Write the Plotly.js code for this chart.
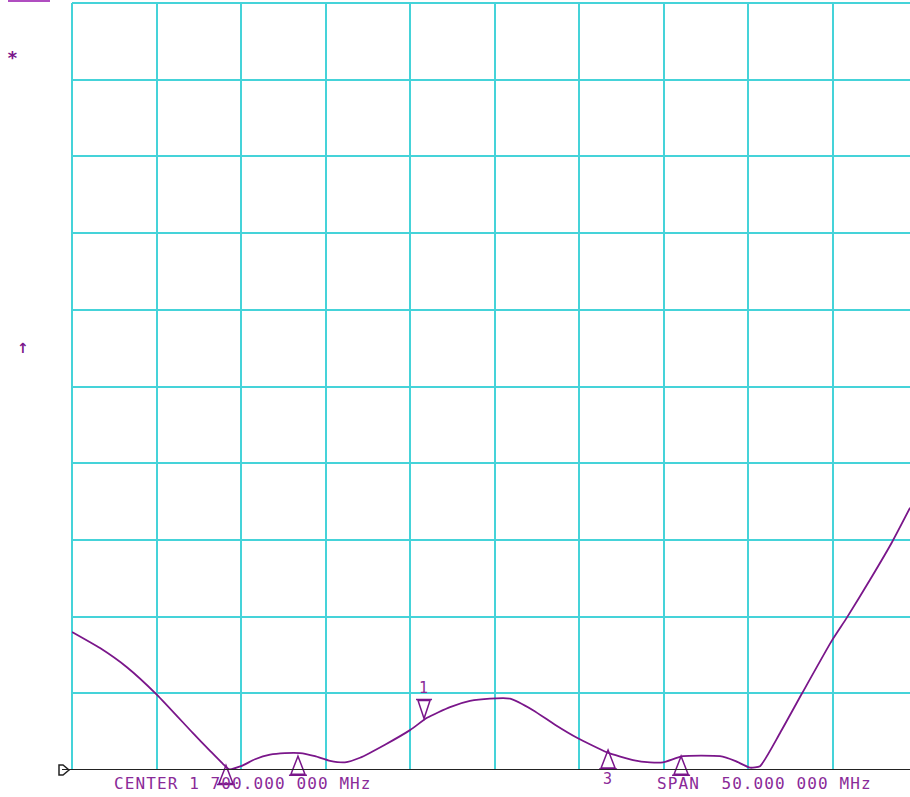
<!DOCTYPE html>
<html>
<head>
<meta charset="utf-8">
<script src="https://cdn.plot.ly/plotly-3.0.1.min.js"></script>
<style>
  html, body { margin: 0; padding: 0; background: #ffffff; }
  #chart { width: 910px; height: 797px; }
  .annotation-text { letter-spacing: 1.1px; }
</style>
</head>
<body>
<div id="chart"></div>
<script>
// ---- data (frequency in MHz, trace in screen divisions) ----
const centerMHz = 1700;
const spanMHz = 50;
const freqMHz = [1675.00, 1676.66, 1678.25, 1680.03, 1682.16, 1683.17, 1683.93, 1684.29, 1685.00, 1685.83,
                 1686.72, 1687.60, 1688.49, 1689.38, 1690.27, 1691.15, 1692.04, 1693.52, 1695.00, 1696.01,
                 1697.37, 1698.55, 1699.73, 1700.92, 1702.28, 1703.58, 1704.88, 1706.66, 1708.20, 1709.20,
                 1709.97, 1711.15, 1713.34, 1714.23, 1715.12, 1715.71, 1716.89, 1718.20, 1719.97, 1720.86,
                 1722.22, 1723.52, 1724.59];
const traceDiv = [1.80, 1.59, 1.34, 0.98, 0.48, 0.25, 0.08, 0.01, 0.05, 0.14,
                  0.20, 0.22, 0.22, 0.18, 0.12, 0.10, 0.16, 0.33, 0.52, 0.68,
                  0.82, 0.90, 0.93, 0.93, 0.78, 0.59, 0.42, 0.23, 0.13, 0.10,
                  0.10, 0.18, 0.18, 0.12, 0.03, 0.05, 0.48, 1.00, 1.69, 1.99,
                  2.48, 2.97, 3.42];
const markerFreq  = [1684.11, 1688.37, 1695.83, 1706.72, 1711.04];
const markerVal   = [0.06, 0.18, 0.67, 0.26, 0.18];
const markerLabel = ['', '', '1', '3', ''];
const markerDir   = ['up', 'up', 'down', 'up', 'up'];
const centerText = 'CENTER 1 700.000 000 MHz';
const spanText = 'SPAN  50.000 000 MHz';

// ---- styles ----
const TRACE = '#7a168a';
const TEXT = '#8a2a98';
const GRID = '#45d3d9';

const W = 910, H = 797;
const margin = {l: 72, r: 0, t: 3, b: 27};
const plotW = W - margin.l - margin.r;
const divPx = 84.5;                       // one horizontal division in pixels
const xStart = centerMHz - spanMHz / 2;
const xEnd = xStart + plotW / divPx * (spanMHz / 10);
const yRange = [0, 10];
const pxX = p => (p - margin.l) / plotW;                  // paper x from pixel
const pxY = p => (H - margin.b - p) / (H - margin.b - margin.t); // paper y from pixel
const yToPaper = v => (v - yRange[0]) / (yRange[1] - yRange[0]);

const shapes = [];
const annotations = [];

// marker glyphs (paper y so they are not clipped at the baseline)
markerFreq.forEach((f, i) => {
  const up = markerDir[i] === 'up';
  shapes.push({
    type: 'path', xref: 'x', yref: 'paper', xsizemode: 'pixel', ysizemode: 'pixel',
    xanchor: f, yanchor: yToPaper(markerVal[i]),
    path: up ? 'M0,0 L-7,-18 L7,-18 Z M-9,-19 L9,-19'
             : 'M0,0 L-6,18 L6,18 Z M-8,19 L8,19',
    line: {color: TRACE, width: 1.5}, layer: 'above'
  });
  if (markerLabel[i]) {
    annotations.push({
      x: f, y: markerVal[i], xref: 'x', yref: 'y', text: markerLabel[i],
      showarrow: false, yshift: up ? -29 : 31, xanchor: 'center', yanchor: 'middle',
      font: {family: 'DejaVu Sans Mono', size: 15, color: TEXT}
    });
  }
});

// bottom reference line (extends left of the grid) and reference-level marker
shapes.push({type: 'line', xref: 'paper', yref: 'y', x0: pxX(62), x1: 1, y0: 0, y1: 0,
             line: {color: '#222222', width: 2}, layer: 'above'});
shapes.push({type: 'path', xref: 'paper', yref: 'paper', xsizemode: 'pixel', ysizemode: 'pixel',
             xanchor: 0, yanchor: 0,
             path: 'M-13,-5 L-13,5 L-9,5 L-3,0 L-9,-5 Z',
             line: {color: '#222222', width: 1.5}, layer: 'above'});
// top grid line and left grid line
shapes.push({type: 'line', xref: 'paper', yref: 'paper', x0: 0, x1: 1, y0: 1, y1: 1,
             line: {color: GRID, width: 2}, layer: 'below'});
shapes.push({type: 'line', xref: 'paper', yref: 'paper', x0: 0, x1: 0, y0: 0, y1: 1,
             line: {color: GRID, width: 2}, layer: 'below'});
// small purple bar at top-left
shapes.push({type: 'rect', xref: 'paper', yref: 'paper', x0: pxX(8), x1: pxX(50), y0: pxY(2), y1: pxY(0),
             fillcolor: '#b04ec0', line: {width: 0}});

annotations.push({x: pxX(112), y: pxY(783), xref: 'paper', yref: 'paper', text: centerText,
                  showarrow: false, xanchor: 'left', yanchor: 'middle',
                  font: {family: 'DejaVu Sans Mono', size: 16, color: TEXT}});
annotations.push({x: pxX(655), y: pxY(783), xref: 'paper', yref: 'paper', text: spanText,
                  showarrow: false, xanchor: 'left', yanchor: 'middle',
                  font: {family: 'DejaVu Sans Mono', size: 16, color: TEXT}});
annotations.push({x: pxX(13), y: pxY(58), xref: 'paper', yref: 'paper', text: '<b>*</b>',
                  showarrow: false, xanchor: 'center', yanchor: 'middle',
                  font: {family: 'DejaVu Sans Mono', size: 18, color: TRACE}});
annotations.push({x: pxX(23), y: pxY(348), xref: 'paper', yref: 'paper', text: '<b>↑</b>',
                  showarrow: false, xanchor: 'center', yanchor: 'middle',
                  font: {family: 'DejaVu Sans', size: 14, color: TRACE}});

const trace = {
  x: freqMHz, y: traceDiv, type: 'scatter', mode: 'lines',
  line: {color: TRACE, width: 1.8, shape: 'spline', smoothing: 0.5},
  hoverinfo: 'skip', cliponaxis: true
};

const layout = {
  width: W, height: H, margin: margin,
  paper_bgcolor: '#ffffff', plot_bgcolor: '#ffffff',
  showlegend: false,
  xaxis: {range: [xStart, xEnd], tick0: xStart, dtick: spanMHz / 10, showticklabels: false,
          ticks: '', showgrid: true, gridcolor: GRID, gridwidth: 2, zeroline: false, showline: false},
  yaxis: {range: yRange, tick0: 0, dtick: 1, showticklabels: false, ticks: '',
          showgrid: true, gridcolor: GRID, gridwidth: 2, zeroline: false, showline: false},
  shapes: shapes,
  annotations: annotations
};

Plotly.newPlot('chart', [trace], layout, {staticPlot: true, displayModeBar: false});
</script>
</body>
</html>
